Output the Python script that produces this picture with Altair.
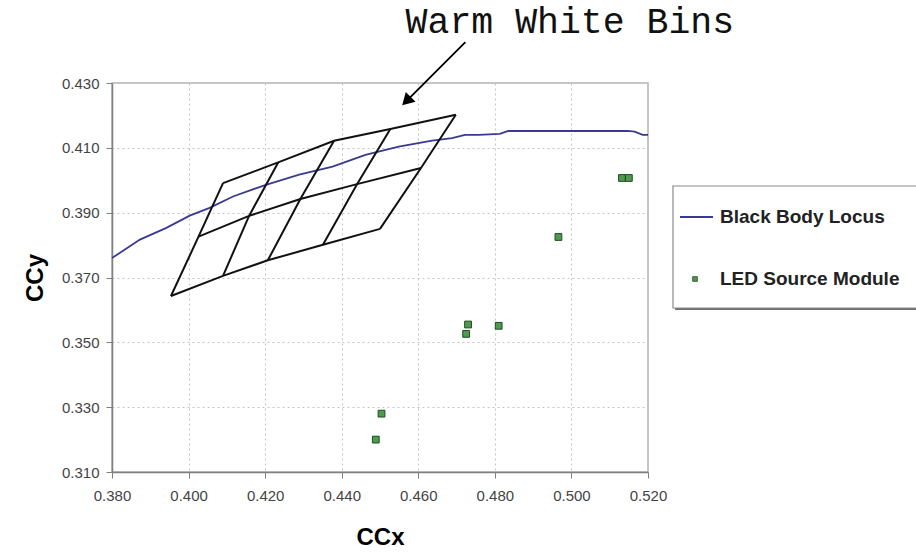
import altair as alt
import pandas as pd

# Planckian (black body) locus, chromaticity coordinates
locus_x = [0.3800, 0.3873, 0.3942, 0.4003, 0.4055, 0.4116, 0.4202, 0.4289, 0.4376,
           0.4462, 0.4549, 0.4636, 0.4688, 0.4722, 0.4757, 0.4813, 0.4835, 0.5147,
           0.5165, 0.5186, 0.5200]
locus_y = [0.3760, 0.3817, 0.3853, 0.3891, 0.3915, 0.3950, 0.3986, 0.4017, 0.4042,
           0.4078, 0.4104, 0.4122, 0.4130, 0.4140, 0.4140, 0.4143, 0.4152, 0.4152,
           0.4150, 0.4140, 0.4140]

# Measured LED source modules
led_x = [0.4489, 0.4504, 0.4725, 0.4730, 0.4810, 0.4966, 0.5132, 0.5150]
led_y = [0.3200, 0.3280, 0.3526, 0.3555, 0.3551, 0.3825, 0.4007, 0.4007]

# Warm white bin grid: top, middle and bottom edges, five nodes each
bin_top_x = [0.4090, 0.4234, 0.4380, 0.4527, 0.4698]
bin_top_y = [0.3991, 0.4055, 0.4122, 0.4158, 0.4202]
bin_mid_x = [0.4026, 0.4158, 0.4292, 0.4440, 0.4607]
bin_mid_y = [0.3826, 0.3890, 0.3942, 0.3988, 0.4038]
bin_bot_x = [0.3954, 0.4090, 0.4207, 0.4351, 0.4500]
bin_bot_y = [0.3643, 0.3705, 0.3753, 0.3801, 0.3850]

x_ticks = [0.38, 0.40, 0.42, 0.44, 0.46, 0.48, 0.50, 0.52]
y_ticks = [0.31, 0.33, 0.35, 0.37, 0.39, 0.41, 0.43]

series_names = ["Black Body Locus", "LED Source Module"]
annotation_text = "Warm White Bins"

LOCUS_COLOR = "#3a3a8e"
LED_FILL = "#4f9a4f"
LED_STROKE = "#1e4d1e"

# ---- tables -------------------------------------------------------------
locus_df = pd.DataFrame({"x": locus_x, "y": locus_y, "i": range(len(locus_x))})
led_df = pd.DataFrame({"x": led_x, "y": led_y})

rows = []
edges = {"top": (bin_top_x, bin_top_y), "mid": (bin_mid_x, bin_mid_y),
         "bot": (bin_bot_x, bin_bot_y)}
for name, (bx, by) in edges.items():
    for k in range(len(bx)):
        rows.append({"seg": "row_" + name, "i": k, "x": bx[k], "y": by[k]})
for k in range(len(bin_top_x)):
    for j, name in enumerate(["top", "mid", "bot"]):
        bx, by = edges[name]
        rows.append({"seg": f"col_{k}", "i": j, "x": bx[k], "y": by[k]})
bins_df = pd.DataFrame(rows)

# arrow from the label down to the bin grid, in data units
arrow_df = pd.DataFrame({"x": [0.4723], "y": [0.4426], "x2": [0.4569], "y2": [0.4244]})
head_df = pd.DataFrame({"x": [0.4569], "y": [0.4244]})
label_df = pd.DataFrame({"x": [0.4996], "y": [0.4488], "t": [annotation_text]})

# ---- scales & axes ------------------------------------------------------
xs = alt.Scale(domain=[0.38, 0.52], nice=False, zero=False)
ys = alt.Scale(domain=[0.31, 0.43], nice=False, zero=False)

common_axis = dict(
    format=".3f", labelFont="Liberation Sans", labelFontSize=15, labelColor="#444444",
    titleFont="Liberation Sans", titleFontSize=24, titleFontWeight="bold",
    titleColor="#000000", tickSize=6, tickColor="#808080", domainColor="#808080",
    domainWidth=1.5, gridColor="#c4c4c4", gridDash=[2, 3], gridWidth=1,
    labelFlush=False, labelOverlap=False,
)
x_axis = alt.Axis(values=x_ticks, title="CCx", labelPadding=10, titlePadding=22,
                  **common_axis)
y_axis = alt.Axis(values=y_ticks, title="CCy", labelPadding=7, titlePadding=14,
                  **common_axis)

X = alt.X("x:Q", scale=xs, axis=x_axis)
Y = alt.Y("y:Q", scale=ys, axis=y_axis)

locus = alt.Chart(locus_df).mark_line(color=LOCUS_COLOR, strokeWidth=1.8).encode(
    x=X, y=Y, order="i:Q")

bins = alt.Chart(bins_df).mark_line(color="#111111", strokeWidth=2).encode(
    x=X, y=Y, detail="seg:N", order="i:Q")

leds = alt.Chart(led_df).mark_point(
    shape="square", filled=True, size=46, fill=LED_FILL, stroke=LED_STROKE,
    strokeWidth=1, opacity=1).encode(x=X, y=Y)

arrow = alt.Chart(arrow_df).mark_rule(color="#000000", strokeWidth=1.8).encode(
    x=X, y=Y, x2="x2:Q", y2="y2:Q")
head = alt.Chart(head_df).mark_point(
    shape="triangle-up", filled=True, size=190, color="#000000", angle=225,
    opacity=1).encode(x=X, y=Y)
label = alt.Chart(label_df).mark_text(
    font="Courier New, Liberation Mono, monospace", fontSize=36.5, color="#111111",
    align="center", baseline="middle").encode(x=X, y=Y, text="t:N")

# ---- legend box (pixel positions relative to the plot area) -------------
leg_df = pd.DataFrame({"name": series_names})
LX, LY0, LY1 = 561, 103, 225
legend_shadow = alt.Chart(leg_df.head(1)).mark_rect(fill="#6e6e6e").encode(
    x=alt.value(LX + 2), x2=alt.value(LX + 320), y=alt.value(LY0 + 2),
    y2=alt.value(LY1 + 2))
legend_box = alt.Chart(leg_df.head(1)).mark_rect(
    fill="#ffffff", stroke="#8a8a8a", strokeWidth=1.2).encode(
    x=alt.value(LX), x2=alt.value(LX + 318), y=alt.value(LY0), y2=alt.value(LY1))
legend_line = alt.Chart(leg_df.head(1)).mark_rule(
    color=LOCUS_COLOR, strokeWidth=2).encode(
    x=alt.value(LX + 7), x2=alt.value(LX + 40), y=alt.value(134))
legend_dot = alt.Chart(leg_df.head(1)).mark_point(
    shape="square", filled=True, size=22, fill=LED_FILL, stroke=LED_STROKE,
    strokeWidth=0.8, opacity=1).encode(x=alt.value(LX + 22), y=alt.value(196))
legend_text1 = alt.Chart(leg_df.iloc[[0]]).mark_text(
    font="Liberation Sans", fontSize=19, fontWeight="bold", color="#222222",
    align="left", baseline="middle").encode(
    x=alt.value(LX + 47), y=alt.value(134), text="name:N")
legend_text2 = alt.Chart(leg_df.iloc[[1]]).mark_text(
    font="Liberation Sans", fontSize=19, fontWeight="bold", color="#222222",
    align="left", baseline="middle").encode(
    x=alt.value(LX + 47), y=alt.value(196), text="name:N")

chart = alt.layer(
    locus, bins, leds, arrow, head, label,
    legend_shadow, legend_box, legend_line, legend_dot, legend_text1, legend_text2,
).properties(
    width=536, height=389,
    autosize=alt.AutoSizeParams(type="none"),
    padding={"left": 112, "top": 83, "right": 268, "bottom": 82},
    background="#ffffff",
).configure_view(
    stroke="#b4b4b4", strokeWidth=1.5, fill="#ffffff",
)

chart.save("out.html", embed_options={"renderer": "svg", "actions": False})
